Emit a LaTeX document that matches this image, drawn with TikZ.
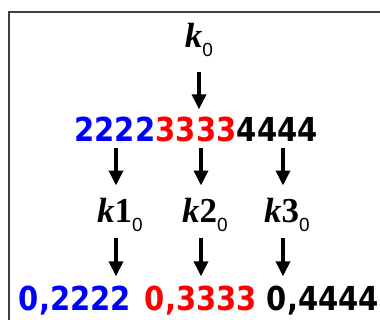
\documentclass[tikz,border=0pt]{standalone}
\usepackage{fontspec}
\setmainfont{Liberation Serif}
\newfontfamily\digfont[FakeStretch=0.88]{DejaVu Sans}
\newfontfamily\subfont{Liberation Sans}
\usetikzlibrary{arrows.meta}
\newcommand{\kvar}[1]{{\fontsize{35}{35}\selectfont\bfseries\itshape k\upshape #1}\raisebox{-9pt}{\subfont\fontsize{19}{19}\selectfont 0}}

\begin{document}
\begin{tikzpicture}[x=1pt,y=-1pt,>={Triangle[width=14pt,length=15pt]},
    dig/.style={inner sep=0pt,anchor=base,font=\digfont\bfseries\fontsize{33}{33}\selectfont},
    lab/.style={inner sep=0pt,anchor=base},
    arr/.style={->,line width=3.5pt},
    frame/.style={line width=1.5pt,black!75}]
                \useasboundingbox (0,0) rectangle (380,320);
                \draw [frame] (9,320) -- (9,12) -- (380,12);
                \node [lab] (k0) at (199,48) {\kvar{}};
                \node [dig,red] (n2) at (196,142) {3333};
                \node [dig,blue,anchor=base east] (n1) at (n2.base west) {2222};
                \node [dig,anchor=base west] (n3) at (n2.base east) {4444};
                \node [lab] (k1) at (120,223) {\kvar{1}};
                \node [lab] (k2) at (205,223) {\kvar{2}};
                \node [lab] (k3) at (287,223) {\kvar{3}};
                \node [dig,blue] (b1) at (75,310) {0,2222};
                \node [dig,red] (b2) at (201,310) {0,3333};
                \node [dig] (b3) at (323,310) {0,4444};
                \draw [arr,shorten <=15pt,shorten >=8pt] (k0.south) -- (k0.south |- n2.north);
                \foreach \i in {1,2,3} {
                    \coordinate (t\i) at ([xshift=-4pt]k\i.north);
                    \coordinate (s\i) at ([xshift=-4pt]k\i.south);
                    \draw [arr,shorten <=6pt,shorten >=13pt] (n1.south -| t\i) -- (t\i);
                    \draw [arr,shorten <=6pt,shorten >=9pt] (s\i) -- (s\i |- b\i.north);
                }
\end{tikzpicture}
\end{document}
